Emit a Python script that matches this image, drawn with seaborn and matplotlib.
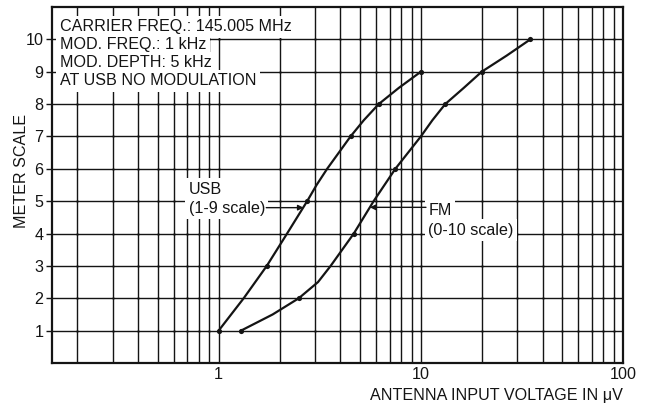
import matplotlib
matplotlib.use("Agg")
import matplotlib.pyplot as plt
import numpy as np
import pandas as pd
import seaborn as sns

# Meter reading vs. antenna input voltage (uV), read at whole and half meter steps
usb_uv = [1.0, 1.33, 1.73, 2.18, 2.74, 3.05, 3.44, 3.93, 4.49, 5.22, 6.19, 7.78, 10.0]
usb_meter = [1, 2, 3, 4, 5, 5.5, 6, 6.5, 7, 7.5, 8, 8.5, 9]
fm_uv = [1.29, 1.85, 2.49, 3.1, 3.58, 4.66, 5.84, 7.48, 10.0, 11.4, 13.2, 16.3,
         20.0, 26.6, 34.8]
fm_meter = [1, 1.5, 2, 2.5, 3, 4, 5, 6, 7, 7.5, 8, 8.5, 9, 9.5, 10]

# plotted measurement dots
usb_dot_uv = [1.0, 1.73, 2.74, 4.49, 6.19, 10.0]
usb_dot_meter = [1, 3, 5, 7, 8, 9]
fm_dot_uv = [1.29, 2.49, 4.66, 7.48, 13.2, 20.0, 34.8]
fm_dot_meter = [1, 2, 4, 6, 8, 9, 10]

x_major = [1, 10, 100]
x_major_labels = ["1", "10", "100"]
x_minor = [0.2, 0.3, 0.4, 0.5, 0.6, 0.7, 0.8, 0.9,
           2, 3, 4, 5, 6, 7, 8, 9,
           20, 30, 40, 50, 60, 70, 80, 90]
y_ticks = [1, 2, 3, 4, 5, 6, 7, 8, 9, 10]

notes = ["CARRIER FREQ.: 145.005 MHz",
         "MOD. FREQ.: 1 kHz",
         "MOD. DEPTH: 5 kHz",
         "AT USB NO MODULATION"]

sns.set_theme(style="white")
plt.rcParams["font.family"] = ["Liberation Sans", "DejaVu Sans"]

ink = "#141414"
fs = 11.6
fig = plt.figure(figsize=(6.52, 4.07), dpi=100)
ax = fig.add_axes([0.0798, 0.1081, 0.8758, 0.8747])

ax.set_xscale("log")
ax.set_xlim(0.15, 100)
ax.set_ylim(0, 11)

ax.set_xticks(x_major)
ax.set_xticklabels(x_major_labels)
ax.set_xticks(x_minor, minor=True)
ax.set_xticklabels([], minor=True)
ax.set_yticks(y_ticks)
ax.set_yticklabels([str(v) for v in y_ticks])

ax.grid(True, which="both", axis="x", color=ink, lw=1.0, zorder=1)
ax.grid(True, which="major", axis="y", color=ink, lw=1.0, zorder=1)
ax.set_axisbelow(True)

# small dots where the graph-paper lines cross
gx, gy = np.meshgrid(np.array(x_minor + x_major[:2]), np.array(y_ticks))
ax.scatter(gx.ravel(), gy.ravel(), s=3, color=ink, linewidths=0, zorder=1.5)

ax.tick_params(axis="x", which="both", length=0, pad=3, labelsize=fs, colors=ink)
ax.tick_params(axis="y", which="major", length=4, width=1, pad=2, labelsize=fs,
               colors=ink, left=True)
for s in ax.spines.values():
    s.set_color(ink)
    s.set_linewidth(1.6)

usb = pd.DataFrame({"uv": usb_uv, "meter": usb_meter})
fm = pd.DataFrame({"uv": fm_uv, "meter": fm_meter})
for df in (usb, fm):
    sns.lineplot(data=df, x="uv", y="meter", ax=ax, sort=False, estimator=None,
                 color=ink, lw=1.6, zorder=4)
sns.scatterplot(x=usb_dot_uv, y=usb_dot_meter, ax=ax, s=14, color=ink,
                linewidth=0, zorder=5)
sns.scatterplot(x=fm_dot_uv, y=fm_dot_meter, ax=ax, s=14, color=ink,
                linewidth=0, zorder=5)

ax.set_xlabel("ANTENNA INPUT VOLTAGE IN \u03bcV", loc="right", fontsize=fs,
              color=ink, labelpad=4)
ax.set_ylabel("METER SCALE", fontsize=fs, color=ink)
ax.yaxis.set_label_coords(-0.040, 0.54)

box = dict(facecolor="white", edgecolor="none", pad=2.5)
for i, line in enumerate(notes):
    ax.text(0.014, 0.944 - i * 0.0505, line, transform=ax.transAxes,
            ha="left", va="center", fontsize=fs, color=ink, bbox=box, zorder=3)

arrow = dict(arrowstyle="-|>", color=ink, lw=1.0, mutation_scale=8,
             shrinkA=0, shrinkB=0)

# USB label and leader
ax.text(0.71, 5.37, "USB", ha="left", va="center", fontsize=fs, color=ink,
        bbox=box, zorder=3)
ax.text(0.71, 4.78, "(1-9 scale)", ha="left", va="center", fontsize=fs,
        color=ink, bbox=box, zorder=3)
ax.annotate("", xy=(2.63, 4.8), xytext=(1.72, 4.8), arrowprops=arrow, zorder=5)

# FM label and leader
ax.text(10.9, 4.72, "FM", ha="left", va="center", fontsize=fs, color=ink,
        bbox=box, zorder=3)
ax.text(10.9, 4.1, "(0-10 scale)", ha="left", va="center", fontsize=fs,
        color=ink, bbox=box, zorder=3)
ax.annotate("", xy=(5.6, 4.81), xytext=(10.6, 4.81), arrowprops=arrow, zorder=5)

fig.savefig("out.png", dpi=100, facecolor="white")
